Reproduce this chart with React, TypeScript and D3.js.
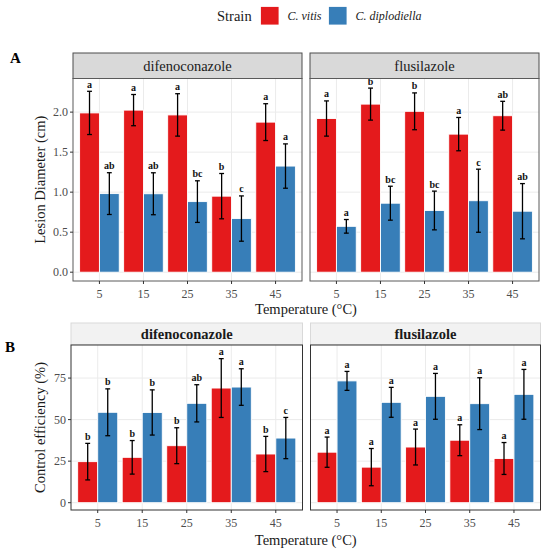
import * as d3 from 'd3';

const temps = ['5', '15', '25', '35', '45'];
const fungicides = ['difenoconazole', 'flusilazole'];
const strains = ['C. vitis', 'C. diplodiella'];
const strainColors = ['#E41A1C', '#377EB8'];

// A: lesion diameter (cm), [difenoconazole, flusilazole]
const lesionVitis = [
  [1.99, 2.025, 1.965, 0.95, 1.875],
  [1.92, 2.1, 2.01, 1.725, 1.955],
];
const lesionVitisSd = [
  [0.27, 0.195, 0.265, 0.283, 0.23],
  [0.22, 0.2, 0.23, 0.208, 0.18],
];
const lesionDip = [
  [0.982, 0.98, 0.882, 0.67, 1.326],
  [0.573, 0.862, 0.771, 0.893, 0.762],
];
const lesionDipSd = [
  [0.261, 0.262, 0.26, 0.283, 0.277],
  [0.085, 0.212, 0.242, 0.394, 0.345],
];
const lesionVitisLetters = [
  ['a', 'a', 'a', 'b', 'a'],
  ['a', 'b', 'b', 'a', 'ab'],
];
const lesionDipLetters = [
  ['ab', 'ab', 'bc', 'c', 'a'],
  ['a', 'bc', 'bc', 'c', 'ab'],
];

// B: control efficiency (%)
const effVitis = [
  [24.7, 27.3, 34.3, 69.0, 29.3],
  [30.4, 21.4, 33.5, 37.6, 26.6],
];
const effVitisSd = [
  [11, 10.1, 10.8, 17.7, 10.6],
  [9.1, 11.2, 10.8, 9.3, 9.6],
];
const effDip = [
  [54.4, 54.3, 59.8, 69.6, 38.9],
  [73.3, 60.4, 64, 59.6, 65.2],
];
const effDipSd = [
  [14.1, 13.6, 11.2, 11, 12.4],
  [5.7, 9, 13.8, 15.6, 15],
];
const effVitisLetters = [
  ['b', 'b', 'b', 'a', 'b'],
  ['a', 'a', 'a', 'a', 'a'],
];
const effDipLetters = [
  ['b', 'b', 'ab', 'a', 'c'],
  ['a', 'a', 'a', 'a', 'a'],
];

const FONT = 'Liberation Serif, Times New Roman, serif';

interface RowProps {
  tag: string;
  tagY: number;
  panelsX: [number, number][];
  stripTop: number;
  panelTop: number;
  panelBottom: number;
  yDomain: [number, number];
  yTicks: number[];
  fmt: (v: number) => string;
  yTitle: string;
  xTitleY: number;
  means: number[][][]; // [strain][facet][temp]
  sds: number[][][];
  letters: string[][][];
  bold: boolean;
}

function FacetRow(p: RowProps) {
  const y = d3.scaleLinear().domain(p.yDomain).range([p.panelBottom, p.panelTop]);
  const stripFill = p.bold ? '#F2F2F2' : '#D9D9D9';
  const stripStroke = p.bold ? '#D9D9D9' : '#4D4D4D';
  const border = p.bold ? '#333333' : '#5A5A5A';
  const left = p.panelsX[0][0];
  const right = p.panelsX[p.panelsX.length - 1][1];

  return (
    <g>
      <text x={p.tag === 'A' ? 10 : 5} y={p.tagY} fontFamily={FONT} fontWeight="bold" fontSize={15}>
        {p.tag}
      </text>
      {p.panelsX.map(([x0, x1], f) => {
        const x = d3.scalePoint<string>().domain(temps).range([x0, x1]).padding(0.6);
        const step = x.step();
        const barW = step * 0.45;
        return (
          <g key={f}>
            <rect
              x={x0}
              y={p.stripTop}
              width={x1 - x0}
              height={p.panelTop - p.stripTop}
              fill={stripFill}
              stroke={stripStroke}
              strokeWidth={1}
            />
            <text
              x={(x0 + x1) / 2}
              y={(p.stripTop + p.panelTop) / 2}
              textAnchor="middle"
              dominantBaseline="central"
              fontFamily={FONT}
              fontSize={14.5}
              fontWeight={p.bold ? 'bold' : 'normal'}
              fill="#1A1A1A"
            >
              {fungicides[f]}
            </text>
            <rect x={x0} y={p.panelTop} width={x1 - x0} height={p.panelBottom - p.panelTop} fill="white" />
            {p.yTicks.map((t) => (
              <line key={'gy' + t} x1={x0} x2={x1} y1={y(t)} y2={y(t)} stroke="#EBEBEB" strokeWidth={1} />
            ))}
            {temps.map((t) => (
              <line key={'gx' + t} x1={x(t)} x2={x(t)} y1={p.panelTop} y2={p.panelBottom} stroke="#EBEBEB" strokeWidth={1} />
            ))}
            {strains.map((s, si) =>
              temps.map((t, ti) => {
                const m = p.means[si][f][ti];
                const sd = p.sds[si][f][ti];
                const bx = (x(t) as number) + (si === 0 ? -barW : 0);
                const cx = bx + barW / 2;
                const capW = step * 0.055;
                return (
                  <g key={s + t}>
                    <rect
                      x={bx}
                      y={y(m)}
                      width={barW}
                      height={y(0) - y(m)}
                      fill={strainColors[si]}
                      stroke="white"
                      strokeWidth={0.9}
                    />
                    <line x1={cx} x2={cx} y1={y(m + sd)} y2={y(m - sd)} stroke="black" strokeWidth={1.3} />
                    <line x1={cx - capW} x2={cx + capW} y1={y(m + sd)} y2={y(m + sd)} stroke="black" strokeWidth={1.3} />
                    <line x1={cx - capW} x2={cx + capW} y1={y(m - sd)} y2={y(m - sd)} stroke="black" strokeWidth={1.3} />
                    <text
                      x={cx}
                      y={y(m + sd) - 3.5}
                      textAnchor="middle"
                      fontFamily={FONT}
                      fontWeight="bold"
                      fontSize={10}
                      fill="#111"
                    >
                      {p.letters[si][f][ti]}
                    </text>
                  </g>
                );
              }),
            )}
            <rect
              x={x0}
              y={p.panelTop}
              width={x1 - x0}
              height={p.panelBottom - p.panelTop}
              fill="none"
              stroke={border}
              strokeWidth={1}
            />
            {temps.map((t) => (
              <g key={'xt' + t}>
                <line x1={x(t)} x2={x(t)} y1={p.panelBottom} y2={p.panelBottom + 3} stroke="#333" strokeWidth={1} />
                <text
                  x={x(t)}
                  y={p.panelBottom + 13}
                  textAnchor="middle"
                  dominantBaseline="central"
                  fontFamily={FONT}
                  fontSize={12}
                  fill="#4D4D4D"
                >
                  {t}
                </text>
              </g>
            ))}
          </g>
        );
      })}
      {p.yTicks.map((t) => (
        <g key={'yt' + t}>
          <line x1={left - 3} x2={left} y1={y(t)} y2={y(t)} stroke="#333" strokeWidth={1} />
          <text
            x={left - 5}
            y={y(t)}
            textAnchor="end"
            dominantBaseline="central"
            fontFamily={FONT}
            fontSize={12}
            fill="#4D4D4D"
          >
            {p.fmt(t)}
          </text>
        </g>
      ))}
      <text
        transform={`translate(40,${(p.panelTop + p.panelBottom) / 2}) rotate(-90)`}
        textAnchor="middle"
        dominantBaseline="central"
        fontFamily={FONT}
        fontSize={14.5}
        fill="#1A1A1A"
      >
        {p.yTitle}
      </text>
      <text
        x={(left + right) / 2}
        y={p.xTitleY}
        textAnchor="middle"
        dominantBaseline="central"
        fontFamily={FONT}
        fontSize={14.5}
        fill="#1A1A1A"
      >
        Temperature (°C)
      </text>
    </g>
  );
}

export default function App() {
  const legendX = [260.5, 328.5];
  return (
    <svg
      width={550}
      height={553}
      style={{ position: 'absolute', left: 0, top: 0, background: 'white' }}
    >
      <rect width={550} height={553} fill="white" />
      <text x={217} y={16} dominantBaseline="central" fontFamily={FONT} fontSize={14.5} fill="#1A1A1A">
        Strain
      </text>
      {strains.map((s, i) => (
        <g key={s}>
          <rect x={legendX[i]} y={6.5} width={18.5} height={18.5} fill={strainColors[i]} stroke="white" strokeWidth={0.8} />
          <text
            x={legendX[i] + 27}
            y={15.5}
            dominantBaseline="central"
            fontFamily={FONT}
            fontStyle="italic"
            fontSize={12}
            fill="#1A1A1A"
          >
            {s}
          </text>
        </g>
      ))}
      <FacetRow
        tag="A"
        tagY={63}
        panelsX={[
          [73, 302],
          [310, 539],
        ]}
        stripTop={53}
        panelTop={78.5}
        panelBottom={281}
        yDomain={[-0.11, 2.42]}
        yTicks={[0, 0.5, 1, 1.5, 2]}
        fmt={d3.format('.1f')}
        yTitle="Lesion Diameter (cm)"
        xTitleY={309}
        means={[lesionVitis, lesionDip]}
        sds={[lesionVitisSd, lesionDipSd]}
        letters={[lesionVitisLetters, lesionDipLetters]}
        bold={false}
      />
      <FacetRow
        tag="B"
        tagY={352}
        panelsX={[
          [71, 302.5],
          [310.5, 540.5],
        ]}
        stripTop={323}
        panelTop={345}
        panelBottom={510}
        yDomain={[-4.4, 94.9]}
        yTicks={[0, 25, 50, 75]}
        fmt={d3.format('d')}
        yTitle="Control efficiency (%)"
        xTitleY={540}
        means={[effVitis, effDip]}
        sds={[effVitisSd, effDipSd]}
        letters={[effVitisLetters, effDipLetters]}
        bold={true}
      />
    </svg>
  );
}
